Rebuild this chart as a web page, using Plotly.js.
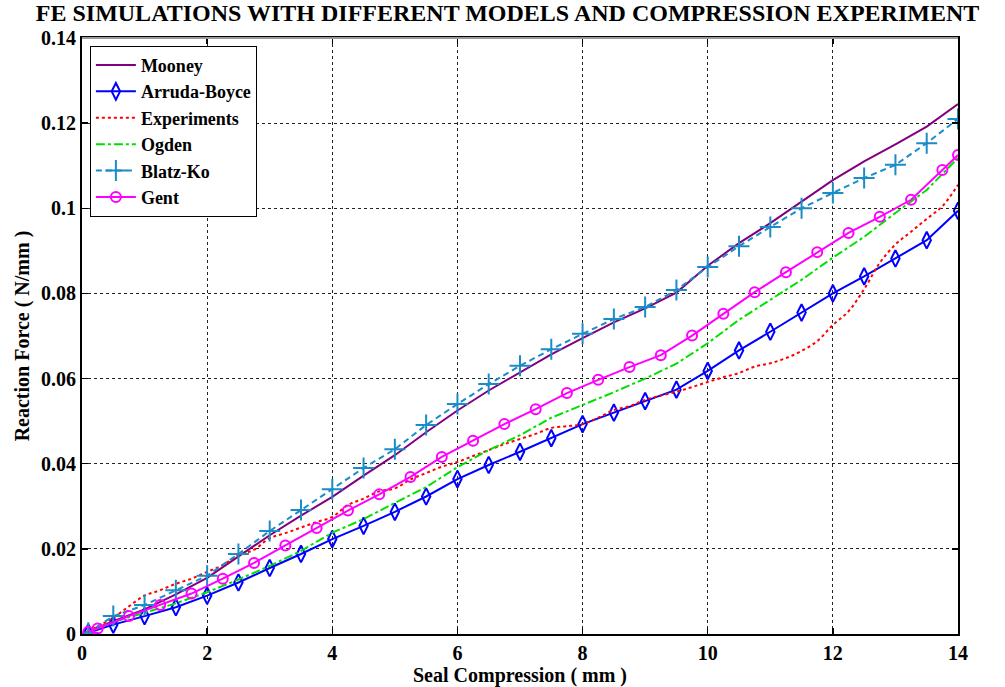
<!DOCTYPE html>
<html>
<head>
<meta charset="utf-8">
<script src="https://cdn.plot.ly/plotly-3.0.1.min.js"></script>
<style>html,body{margin:0;padding:0;background:#fff;}#chart{width:1005px;height:687px;}</style>
</head>
<body>
<div id="chart"></div>
<script>
// ---- data ----
const mooneyX = [0,0.5,1,1.5,2,2.5,3,3.5,4,4.5,5,5.5,6,6.5,7,7.5,8,8.5,9,9.5,10,10.5,11,11.5,12,12.5,13,13.5,14];
const mooneyY = [0,0.003,0.0058,0.0093,0.0132,0.0182,0.0232,0.0278,0.0322,0.0372,0.042,0.0474,0.0525,0.0572,0.0615,0.0657,0.0695,0.0732,0.0765,0.0802,0.0865,0.0918,0.0965,0.1015,0.1066,0.111,0.115,0.1192,0.1245];

const arrudaX = [0.1,0.5,1,1.5,2,2.5,3,3.5,4,4.5,5,5.5,6,6.5,7,7.5,8,8.5,9,9.5,10,10.5,11,11.5,12,12.5,13,13.5,14];
const arrudaY = [0.0003,0.0022,0.0042,0.0063,0.009,0.0121,0.0155,0.0188,0.0223,0.0254,0.0287,0.0323,0.0364,0.0397,0.0428,0.046,0.0493,0.052,0.0547,0.0574,0.0618,0.0666,0.071,0.0755,0.08,0.084,0.0882,0.0925,0.0994];

const expX = [0,0.25,0.5,0.75,1,1.25,1.5,1.75,2,2.25,2.5,2.75,3,3.25,3.5,3.75,4,4.25,4.5,4.75,5,5.25,5.5,5.75,6,6.25,6.5,6.75,7,7.25,7.5,7.75,8,8.25,8.5,8.75,9,9.25,9.5,9.75,10,10.25,10.5,10.75,11,11.25,11.5,11.75,12,12.25,12.5,12.75,13,13.25,13.5,13.75,14];
const expY = [0,0.0018,0.0038,0.0065,0.009,0.0103,0.0118,0.013,0.0146,0.0162,0.0185,0.0198,0.0225,0.0237,0.025,0.0263,0.0275,0.0303,0.0318,0.0335,0.0342,0.0363,0.0378,0.0393,0.0404,0.0418,0.0432,0.0446,0.0458,0.047,0.0484,0.0488,0.0493,0.0508,0.0526,0.0535,0.055,0.056,0.0569,0.058,0.0592,0.0603,0.0613,0.0628,0.0636,0.0648,0.0665,0.0688,0.0726,0.0758,0.081,0.0872,0.0915,0.0945,0.0975,0.1005,0.1055];

const ogdenX = [0,0.5,1,1.5,2,2.5,3,3.5,4,4.5,5,5.5,6,6.5,7,7.5,8,8.5,9,9.5,10,10.5,11,11.5,12,12.5,13,13.5,14];
const ogdenY = [0,0.0028,0.005,0.0072,0.0098,0.0128,0.016,0.0195,0.0238,0.027,0.0308,0.0345,0.0392,0.0432,0.0467,0.0508,0.0538,0.0568,0.06,0.0635,0.0683,0.0738,0.0785,0.0832,0.0884,0.0933,0.0989,0.1043,0.1118];

const blatzX = [0.1,0.5,1,1.5,2,2.5,3,3.5,4,4.5,5,5.5,6,6.5,7,7.5,8,8.5,9,9.5,10,10.5,11,11.5,12,12.5,13,13.5,14];
const blatzY = [0.0003,0.0042,0.0068,0.0103,0.0137,0.0188,0.0242,0.0291,0.034,0.039,0.0434,0.0491,0.054,0.0587,0.063,0.0669,0.0705,0.074,0.0768,0.0808,0.0862,0.0911,0.0956,0.1,0.1036,0.1071,0.1102,0.1153,0.121];

const gentX = [0.1,0.25,0.75,1.25,1.75,2.25,2.75,3.25,3.75,4.25,4.75,5.25,5.75,6.25,6.75,7.25,7.75,8.25,8.75,9.25,9.75,10.25,10.75,11.25,11.75,12.25,12.75,13.25,13.75,14];
const gentY = [0.0005,0.0013,0.0042,0.0068,0.0095,0.013,0.0167,0.0208,0.0249,0.029,0.0328,0.0369,0.0416,0.0454,0.0493,0.0528,0.0566,0.0597,0.0627,0.0655,0.0701,0.0752,0.0803,0.085,0.0897,0.0942,0.098,0.102,0.109,0.1125];

const xTicks = [0,2,4,6,8,10,12,14];
const yTicks = [0,0.02,0.04,0.06,0.08,0.1,0.12,0.14];

const titleText = "FE SIMULATIONS WITH DIFFERENT MODELS AND COMPRESSION EXPERIMENT";
const xTitle = "Seal Compression ( mm )";
const yTitle = "Reaction Force ( N/mm )";

const serif = "Liberation Serif, Times New Roman, serif";

const traces = [
  {name:"Mooney", x:mooneyX, y:mooneyY, mode:"lines", line:{color:"#800080", width:2}},
  {name:"Arruda-Boyce", x:arrudaX, y:arrudaY, mode:"lines+markers", line:{color:"#0000ff", width:2},
   marker:{symbol:"diamond-tall-open", size:12, color:"#0000ff", line:{width:2, color:"#0000ff"}}},
  {name:"Experiments", x:expX, y:expY, mode:"lines", line:{color:"#ff0000", width:2, dash:"dot", shape:"spline"}},
  {name:"Ogden", x:ogdenX, y:ogdenY, mode:"lines", line:{color:"#00e000", width:2, dash:"dashdot"}},
  {name:"Blatz-Ko", x:blatzX, y:blatzY, mode:"lines+markers", line:{color:"#1c8cc8", width:2, dash:"6px,4px"},
   marker:{symbol:"cross-thin-open", size:15, color:"#1c8cc8", line:{width:2, color:"#1c8cc8"}}},
  {name:"Gent", x:gentX, y:gentY, mode:"lines+markers", line:{color:"#ff00ff", width:2},
   marker:{symbol:"circle-open", size:10, color:"#ff00ff", line:{width:2, color:"#ff00ff"}}}
];

const layout = {
  width:1005, height:687,
  paper_bgcolor:"#fff", plot_bgcolor:"#fff",
  margin:{l:82, r:47, t:38, b:53},
  title:{text:titleText, font:{family:serif, size:24, color:"#000", weight:"bold"},
         x:0.505, xref:"container", y:0.982, yref:"container", yanchor:"middle", xanchor:"center"},
  xaxis:{range:[0,14], tickvals:xTicks, ticktext:xTicks.map(String), ticks:"inside", ticklen:6, tickwidth:1.5, tickcolor:"#000",
         showline:true, linecolor:"#000", linewidth:2, mirror:"ticks",
         showgrid:true, gridcolor:"#222", gridwidth:1, griddash:"3px,3px", zeroline:false,
         tickfont:{family:serif, size:20, color:"#000", weight:"bold"},
         title:{text:xTitle, font:{family:serif, size:20, color:"#000", weight:"bold"}, standoff:6}},
  yaxis:{range:[0,0.14], tickvals:yTicks, ticktext:yTicks.map(v=>String(v)), ticks:"inside", ticklen:6, tickwidth:1.5, tickcolor:"#000",
         showline:true, linecolor:"#000", linewidth:2, mirror:"ticks",
         showgrid:true, gridcolor:"#222", gridwidth:1, griddash:"3px,3px", zeroline:false,
         tickfont:{family:serif, size:20, color:"#000", weight:"bold"},
         title:{text:yTitle, font:{family:serif, size:20, color:"#000", weight:"bold"}, standoff:6}},
  legend:{x:0.009, y:0.987, xanchor:"left", yanchor:"top", bgcolor:"#fff", bordercolor:"#000", borderwidth:1,
          font:{family:serif, size:18, color:"#000", weight:"bold"}, tracegroupgap:0, itemwidth:40},
  shapes:[{type:"line", xref:"paper", yref:"paper", x0:0, x1:1, y0:1, y1:1, line:{color:"#999", width:2}, layer:"above"}],
  showlegend:true
};

Plotly.newPlot("chart", traces, layout, {displayModeBar:false, staticPlot:true});
</script>
</body>
</html>
